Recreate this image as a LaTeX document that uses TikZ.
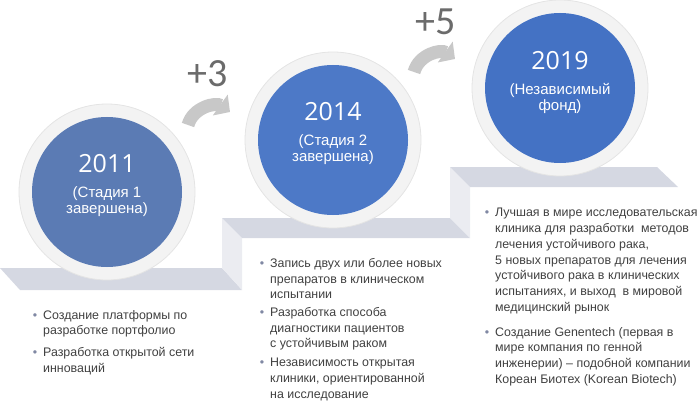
\documentclass[tikz,border=0pt]{standalone}
\usepackage{fontspec}
\setmainfont{Liberation Sans}
\newfontfamily\yearfont{Open Sans}
\newfontfamily\plusfont{Carlito}
\usetikzlibrary{arrows.meta,calc}

\definecolor{ringgray}{HTML}{F3F3F3}
\definecolor{ringedge}{HTML}{E4E4E4}
\definecolor{blueA}{HTML}{5B7BB4}
\definecolor{blueB}{HTML}{4D79C7}
\definecolor{blueC}{HTML}{4472C4}
\definecolor{stepdark}{HTML}{D5D8E2}
\definecolor{steplight}{HTML}{EBECF1}
\definecolor{arrowgray}{HTML}{C8C8C8}
\definecolor{plusgray}{HTML}{6B6B6B}
\definecolor{bodygray}{HTML}{404040}
\definecolor{dotgray}{HTML}{8088A3}

\newcommand\bul{\llap{\textcolor{dotgray}{\textbullet}\hspace{6pt}}}

\begin{document}
\begin{tikzpicture}[
  x=1pt, y=-1pt,
  stepface/.style = {fill=stepdark},
  stepside/.style = {fill=steplight},
  ring/.style = {circle, fill=ringgray, draw=ringedge, line width=0.8pt, minimum size=176pt, inner sep=0pt},
  disc/.style = {circle, fill=#1, minimum size=150pt, inner sep=0pt},
  year/.style = {text=white, inner sep=0pt, font=\yearfont\fontsize{25}{28}\selectfont},
  stage/.style = {text=white, align=center, inner sep=0pt, font=\fontsize{15}{16}\selectfont},
  plus/.style = {text=plusgray, inner sep=0pt, font=\plusfont\fontsize{40}{40}\selectfont},
  item/.style = {anchor=north west, inner sep=0pt, align=left, text=bodygray, font=\fontsize{12.4}{15.8}\selectfont},
  turn/.style = {draw=arrowgray, line width=13pt, -{Triangle[length=12pt,width=25pt]}}
]
  \useasboundingbox (0,0) rectangle (700,406);

  % steps
  \fill[stepface] (0,268) -- (222,268) -- (242,290) -- (20,290) -- cycle;
  \fill[stepside] (222,218) -- (242,238) -- (242,290) -- (222,268) -- cycle;
  \fill[stepface] (222,218) -- (450,218) -- (470,238) -- (242,238) -- cycle;
  \fill[stepside] (450,167) -- (470,187) -- (470,238) -- (450,218) -- cycle;
  \fill[stepface] (450,167) -- (657,167) -- (678,187) -- (470,187) -- cycle;

  % circles
  \node[ring] (r1) at (107,192) {};
  \node[disc=blueA] (d1) at (r1) {};
  \node[ring] (r2) at (333,140) {};
  \node[disc=blueB] (d2) at (r2) {};
  \node[ring] (r3) at (560,88) {};
  \node[disc=blueC] (d3) at (r3) {};

  \node[year] (y1) at ($(d1)+(0,-28)$) {2011};
  \node[stage] (s1) at ($(d1)+(0,10)$) {(Стадия 1\\завершена)};
  \node[year] (y2) at ($(d2)+(0,-28)$) {2014};
  \node[stage] (s2) at ($(d2)+(0,10)$) {(Стадия 2\\завершена)};
  \node[year] (y3) at ($(d3)+(0,-27)$) {2019};
  \node[stage] (s3) at ($(d3)+(0,10)$) {(Независимый\\фонд)};

  % jumps
  \node[plus] (p1) at (208,74) {+3};
  \node[plus] (p2) at (436,22) {+5};
  \coordinate (a1s) at (188,125);
  \coordinate (a1e) at (230,112);
  \coordinate (a2s) at (414,72);
  \coordinate (a2e) at (455,59);
  \draw[turn] (a1s) .. controls +(5,-18) and +(-14,-10) .. (a1e);
  \draw[turn] (a2s) .. controls +(5,-18) and +(-14,-10) .. (a2e);

  % texts
  \node[item] (i11) at (43,310) {\bul Создание платформы по\\разработке портфолио};
  \node[item] (i12) at (43,347) {\bul Разработка открытой сети\\инноваций};

  \node[item] (i21) at (270,258) {\bul Запись двух или более новых\\препаратов в клиническом\\испытании};
  \node[item] (i22) at (270,307) {\bul Разработка способа\\диагностики пациентов\\с устойчивым раком};
  \node[item] (i23) at (270,358) {\bul Независимость открытая\\клиники, ориентированной\\на исследование};

  \node[item] (i31) at (495,208) {\bul Лучшая в мире исследовательская\\клиника для разработки\ \ методов\\лечения устойчивого рака,\\5 новых препаратов для лечения\\устойчивого рака в клинических\\испытаниях, и выход\ \ в мировой\\медицинский рынок};
  \node[item] (i32) at (495,327) {\bul Создание Genentech (первая в\\мире компания по генной\\инженерии) – подобной компании\\Кореан Биотех (Korean Biotech)};
\end{tikzpicture}
\end{document}
